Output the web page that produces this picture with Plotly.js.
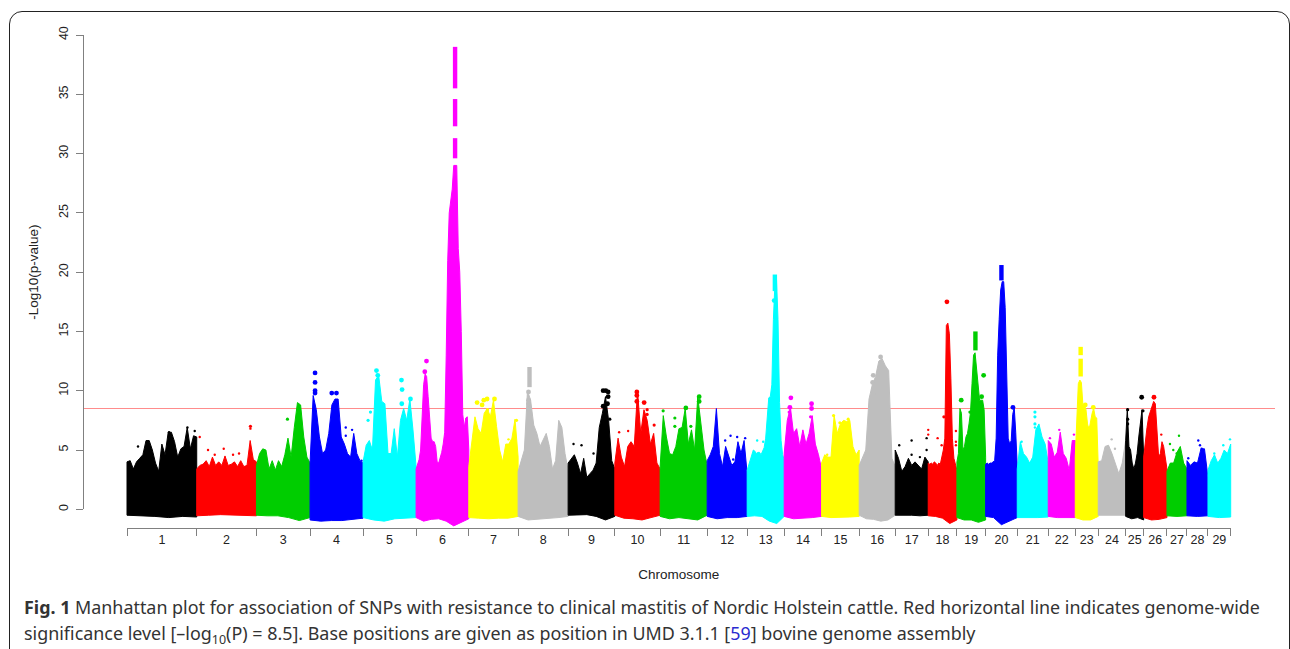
<!DOCTYPE html>
<html>
<head>
<meta charset="utf-8">
<script src="https://cdn.plot.ly/plotly-3.0.1.min.js"></script>
<style>
html,body{margin:0;padding:0;background:#fff;overflow:hidden;width:1290px;height:649px}
#card{position:absolute;left:9px;top:11px;width:1281px;height:700px;border:1.5px solid #222;border-radius:13px;box-sizing:border-box}
#plot{position:absolute;left:0;top:0;width:1290px;height:649px}
</style>
</head>
<body>
<div id="card"></div>
<div id="plot"></div>
<script>
const chromLabels = ["1","2","3","4","5","6","7","8","9","10","11","12","13","14","15","16","17","18","19","20","21","22","23","24","25","26","27","28","29"];
// chromosome boundaries along the genome axis
const chromBounds = [0,69.7,129.4,183,236,289,341.7,391,441,487.7,533,580,620,657,694.4,732,768,801,829.7,858.4,890,921,948,971,998.4,1016.4,1039.7,1059.7,1080.7,1103.4];
const yTicks = [0,5,10,15,20,25,30,35,40];
const threshold = 8.5;

// upper edge of the SNP cloud, evenly spaced along each chromosome
const top1 = [4.0,4.1,3.4,4.0,4.3,4.6,5.8,5.8,5.0,3.9,3.2,5.5,4.6,6.5,6.5,5.7,4.4,5.1,5.3,6.9,5.1,6.2,6.1];
const top2 = [3.4,3.7,3.8,4.1,3.6,4.4,3.7,4.0,3.7,4.5,3.7,3.8,4.0,3.6,4.1,3.6,3.7,5.8,4.2,4.0];
const top3 = [3.7,4.7,5.1,5.0,3.4,4.1,3.3,4.1,3.6,4.6,6.0,4.4,6.9,9.0,8.8,6.1,4.4,3.9];
const top4 = [3.9,9.6,8.4,6.1,4.7,5.0,6.4,8.8,9.3,9.3,6.1,5.5,4.7,4.4,6.4,4.7,4.1,3.9];
const top5 = [4.0,5.4,5.8,5.0,10.9,11.3,9.1,8.9,4.7,4.7,6.8,4.4,7.5,8.5,7.5,9.3,6.7,3.6];
const top6 = [3.4,3.9,4.2,5.0,8.0,10.5,11.4,11.2,9.5,7.5,6.0,5.7,5.7,5.3,4.0,3.9,4.3,4.8,5.5,6.5,13,21,25,26,27,29,29,29,22,20,15,8,6.9,7.7,7.8,5.0];
const top7 = [3.6,5.5,7.8,6.8,6.4,8.1,8.5,7.8,9.2,7.0,5.0,4.0,5.5,5.5,6.0,7.6,4.4];
const top8 = [3.2,4.1,5.0,10.0,9.2,7.1,6.4,5.3,5.8,6.4,5.3,3.4,4.1,7.5,6.9,4.7,3.3];
const top9 = [3.9,4.3,4.6,3.9,3.0,4.3,2.7,3.0,3.3,3.9,6.9,8.1,9.5,7.5,4.1,3.4];
const top10 = [3.9,6.0,4.4,3.6,5.3,5.7,5.3,10.0,6.4,8.4,7.5,5.5,6.4,3.9,3.4];
const top11 = [3.6,7.9,6.1,4.7,4.6,5.3,6.8,6.9,8.5,5.5,6.7,5.0,9.5,7.2,5.0,3.7];
const top12 = [4.1,4.6,5.3,8.5,4.7,3.6,5.3,4.4,3.7,4.0,5.7,4.7,5.8,3.0];
const top13 = [3.3,3.7,4.0,4.5,5.0,4.9,4.7,4.8,4.8,4.6,5.0,5.2,6.0,7.5,9.4,9.5,10.5,16,19,19.5,16,9,5.8,4.6,4.2];
const top14 = [4.7,7.5,8.6,6.4,6.8,5.3,6.7,5.5,6.4,7.9,5.5,4.6,3.4];
const top15 = [3.9,4.6,4.4,4.4,7.9,6.4,7.2,7.5,7.4,7.5,5.3,4.6,5.0];
const top16 = [3.7,4.4,5.0,9.3,10.5,11.2,12.5,12.7,12.1,11.7,4.3,3.6];
const top17 = [5.0,4.3,3.2,3.6,4.3,3.7,4.0,3.7,3.4,4.4,4.0];
const top18 = [3.9,3.8,3.9,3.8,4.0,3.9,3.7,3.9,3.8,4.4,5.0,6.0,15.5,15.7,14.8,11.0,6.0,4.3,3.7,3.3];
const top19 = [4.0,4.7,8.5,8.1,5.0,5.3,6.1,6.4,7.2,8.2,10.6,13.0,13.2,11.7,10.0,9.2,9.2,9.2,8.4,4.4];
const top20 = [3.8,3.9,3.8,3.9,3.9,4.0,4.1,6.0,13,16,18.5,19.2,19.2,17,12,6.0,5.5,5.8,8.0,8.6,6.5,3.6];
const top21 = [3.4,5.7,4.7,4.4,3.9,4.4,6.7,7.2,6.1,5.5,3.9];
const top22 = [5.8,5.5,4.4,4.8,6.5,4.7,4.3,3.3,5.8,5.8];
const top23 = [4.4,7.2,10.6,10.9,10.7,8.8,8.8,8.4,7.2,6.7,7.5,8.1,8.5,7.8,7.7,3.6];
const top24 = [4.0,4.1,5.3,5.4,4.7,3.9,3.0,3.9,5.8];
const top25 = [5.8,8.5,5.3,5.0,3.9,3.4,3.9,4.7,6.1,7.5,8.4,4.4];
const top26 = [4.4,5.8,6.9,7.8,8.2,8.6,9.1,8.9,6.1,4.4,4.7,5.7,5.3,4.4,3.4];
const top27 = [3.2,3.9,3.9,4.8,5.3,3.9,3.4];
const top28 = [4.1,3.7,4.0,3.9,5.1,5.1,2.7];
const top29 = [3.3,4.1,4.6,3.9,4.3,5.0,4.7,5.5];
const chromTops = [top1,top2,top3,top4,top5,top6,top7,top8,top9,top10,top11,top12,top13,top14,top15,top16,top17,top18,top19,top20,top21,top22,top23,top24,top25,top26,top27,top28,top29];

// lower edge of the SNP cloud, evenly spaced along each chromosome
const bot1 = [-.5,-.55,-.6,-.7,-.6,-.65];
const bot2 = [-.55,-.5,-.45,-.5,-.5,-.55];
const bot3 = [-.5,-.55,-.55,-.7,-.95,-.7];
const bot4 = [-.9,-1,-.95,-.95,-.85,-.75];
const bot5 = [-.7,-.9,-1,-.8,-.75,-.7];
const bot6 = [-.7,-1,-.85,-.8,-1,-1.4,-1.1,-.8];
const bot7 = [-.7,-.75,-.8,-.75,-.75,-.6];
const bot8 = [-.6,-.9,-.8,-.75,-.7,-.6];
const bot9 = [-.5,-.5,-.45,-.6,-.9,-.6];
const bot10 = [-.5,-.75,-.8,-.9,-.7,-.5];
const bot11 = [-.6,-.8,-.7,-.8,-.9,-.5];
const bot12 = [-.6,-.8,-.7,-.7,-.6];
const bot13 = [-.6,-.55,-.6,-1,-1.2,-.6];
const bot14 = [-.6,-.8,-.75,-.7,-.6];
const bot15 = [-.6,-.7,-.7,-.65,-.6];
const bot16 = [-.5,-.8,-.85,-1,-.9,-.5];
const bot17 = [-.5,-.5,-.5,-.55,-.5];
const bot18 = [-.55,-.6,-.75,-1.2,-.9];
const bot19 = [-.7,-.9,-.9,-1.1,-.9];
const bot20 = [-.6,-.7,-1.3,-1.0,-.7];
const bot21 = [-.7,-.7,-.7,-.65];
const bot22 = [-.6,-.7,-.7,-.7];
const bot23 = [-.7,-.9,-.9,-.6];
const bot24 = [-.5,-.55,-.5,-.5];
const bot25 = [-.6,-.8,-.7,-.9];
const bot26 = [-.7,-.9,-.85,-.7];
const bot27 = [-.55,-.6,-.55];
const bot28 = [-.55,-.6,-.55];
const bot29 = [-.6,-.7,-.65];
const chromBots = [bot1,bot2,bot3,bot4,bot5,bot6,bot7,bot8,bot9,bot10,bot11,bot12,bot13,bot14,bot15,bot16,bot17,bot18,bot19,bot20,bot21,bot22,bot23,bot24,bot25,bot26,bot27,bot28,bot29];

// unbroken runs of strongly associated SNPs: chromosome, position, low and high end
const runChrom = [6,6,6,8,13,19,20,23,23];
const runPos = [328,328,328,402.4,647.7,848.2,874.2,953.4,953.4];
const runLow = [35.5,32.3,29.6,10.3,18.4,13.4,19.3,13.0,11.2];
const runHigh = [39.0,34.6,31.3,12.0,19.8,15.0,20.6,13.7,12.7];

// individual SNPs standing out above the cloud
const snpChrom = [1,1,1,1, 2,2,2,2,2,2,2,2, 3, 4,4,4,4,4,4,4,4,4,4, 5,5,5,5,5,5,5,5,
 6,6, 7,7,7,7,7,7,7,7,7, 8,8,8, 9,9,9,9,9,9,9,9,9,9,9,
 10,10,10,10,10,10,10,10,10, 11,11,11,11,11,11,11, 12,12,12,12,12,
 13,13,13, 14,14,14,14,14,14, 15,15,15,15, 16,16,16,16, 17,17,17,17,17,17,
 18,18,18,18,18,18,18,18,18, 19,19,19,19, 20,
 21,21,21,21,21, 22,22,22, 23,23,23, 24,24, 25,25,25,25,25, 26,26,
 27,27,27,27, 28,28,28,28, 29,29,29];
const snpPos = [60.4,67.7,42,11, 123.4,123.4,81,96.7,87.7,106,112,72.7, 160.4, 188,188,188,188,204.7,209.4,218.7,218.7,225,234.4, 249.4,250.7,274.4,275,274.7,243.4,241,283.4,
 299.4,297.7, 350,355,356.7,360,367.4,389.4,381.4,360.4,358.7, 401.4,401.4,401.4, 476,478.7,481,481,480.4,476,477.7,446.4,466.4,482.7,454.4,
 509.7,509.7,509.7,517,520,520,527,501,492, 572,572,558.7,536,547.7,547.7,563.7, 598,610,618,606,603.4,
 647,630,636, 663.7,684.4,684.4,662.7,662,683.4, 706.4,721,712.7,700, 746,745.4,749.4,753.4, 784.4,784.4,799.4,799.4,772,792.7,
 819.7,801,801,810.4,814.4,816.7,828.7,828.7,828.7, 856.4,854.4,834,842.7, 885.7,
 907.7,907.7,907.7,907.7,894.4, 932,922.7,946.7, 958,966,962, 984.4,987.7, 1014.4,1000.4,1000.4,1000.4,1015.7, 1026.7,1034,
 1051.7,1042.7,1046,1049.4, 1071,1072.7,1074.4,1061, 1096,1102.7,1087];
const snpLogP = [6.9,6.6,6.5,5.3, 7.0,6.8,5.0,5.1,4.6,4.6,4.7,6.1, 7.6, 11.5,10.7,10,9.8,9.8,9.8,6.9,6.2,6.7,4.1, 11.7,11.3,10.9,10.1,8.9,8.2,7.5,9.3,
 12.5,11.6, 9.0,8.8,9.2,9.3,9.3,7.5,5.9,8.4,7.8, 9.9,9.2,8.9, 10,10,9.9,9.5,8.9,8.7,7.9,5.5,4.7,7.6,5.4,
 9.9,9.6,9.1,9,8.4,8,7.1,6.6,6.5, 9.5,9.1,8.55,8.3,7.7,7,7, 5.8,6.1,6,4.2,6.2,
 17.6,5.8,5.7, 9.4,8.9,8.5,8.6,8.2,7.8, 7.9,7.6,7.3,4.6, 11.3,10.7,9.9,12.85, 5.8,4.6,6,5,5.4,4.4,
 17.5,6.7,6.3,6,5.4,7.8,6.6,5.7,5.4, 11.3,9.5,9.2,8.2, 8.6,
 8.2,7.8,7.2,6.9,5.7, 6.7,6,6.3, 8.8,8.6,6.9, 5.9,5.1, 9.45,8.4,7.6,7.2,8.3, 9.45,6.3,
 6.2,5.5,5,4.7, 5.8,5.4,5.1,4.3, 5.4,5.9,4.7];

const palette = ["#000000","#FF0000","#00CD00","#0000FF","#00FFFF","#FF00FF","#FFFF00","#BEBEBE"];
const captionLine1 = "<b>Fig. 1</b> Manhattan plot for association of SNPs with resistance to clinical mastitis of Nordic Holstein cattle. Red horizontal line indicates genome-wide";
const captionLine2 = "significance level [–log<sub>10</sub>(P) = 8.5]. Base positions are given as position in UMD 3.1.1 [<span style=\"color:#2a2ad0\">59</span>] bovine genome assembly";

const W=1290,H=649;
const margin={l:83.3,r:15,t:35,b:121.3};
const plotW=W-margin.l-margin.r, plotH=H-margin.t-margin.b;
const fullX=[-44,1147.7], fullY=[-1.578,40];
const axisXDomain=[44/plotW,1147.4/plotW], axisYDomain=[18.7/plotH,1];
const px=x=>(x-margin.l)/plotW, py=y=>1-(y-margin.t)/plotH;
const color=i=>palette[i%palette.length];
const even=(a,b,n,i)=>a+(b-a)*i/(n-1);
const inkFont="Liberation Sans, Arial, sans-serif";
const gray="#808080";

const traces=[{x:fullX,y:[threshold,threshold],mode:"lines",line:{color:"#FF8C8C",width:1.2},hoverinfo:"skip",showlegend:false}];
chromLabels.forEach((name,i)=>{
  const a=chromBounds[i],b=chromBounds[i+1],t=chromTops[i],d=chromBots[i];
  const xs=[],ys=[];
  t.forEach((v,k)=>{xs.push(even(a,b,t.length,k));ys.push(v);});
  for(let k=d.length-1;k>=0;k--){xs.push(even(a,b,d.length,k));ys.push(d[k]);}
  xs.push(xs[0]);ys.push(ys[0]);
  traces.push({x:xs,y:ys,mode:"lines",fill:"toself",fillcolor:color(i),line:{color:color(i),width:1},name:"Chr "+name,showlegend:false,hoverinfo:"skip"});
});
runChrom.forEach((c,k)=>{
  traces.push({x:[runPos[k],runPos[k]],y:[runLow[k],runHigh[k]],mode:"lines",line:{color:color(c-1),width:4.4},showlegend:false,hoverinfo:"skip"});
});
traces.push({x:snpPos,y:snpLogP,mode:"markers",showlegend:false,
  marker:{color:snpChrom.map(c=>color(c-1)),size:snpLogP.map(v=>v>=8.5?4.8:(v>=7?3.2:2.4)),opacity:1,line:{width:0}},hoverinfo:"skip"});
// carriers of the visible axes
traces.push({x:[0],y:[0],xaxis:"x2",yaxis:"y2",mode:"markers",marker:{opacity:0,size:1},showlegend:false,hoverinfo:"skip"});
traces.push({x:[0],y:[0],xaxis:"x3",yaxis:"y2",mode:"markers",marker:{opacity:0,size:1},showlegend:false,hoverinfo:"skip"});

const centers=chromLabels.map((_,i)=>(chromBounds[i]+chromBounds[i+1])/2);
const tickFont={family:inkFont,size:12.5,color:"#222"};
const titleFont={family:inkFont,size:13.5,color:"#222"};
const layout={
  width:W,height:H,margin:margin,paper_bgcolor:"rgba(0,0,0,0)",plot_bgcolor:"rgba(0,0,0,0)",showlegend:false,
  xaxis:{visible:false,range:fullX,fixedrange:true},
  yaxis:{visible:false,range:fullY,fixedrange:true},
  xaxis2:{domain:axisXDomain,range:[0,1103.4],anchor:"free",position:0,tickmode:"array",tickvals:centers,ticktext:chromLabels,
    ticks:"",ticklabelstandoff:2,tickangle:0,tickfont:tickFont,showgrid:false,zeroline:false,showline:false,
    title:{text:"Chromosome",font:titleFont,standoff:24},automargin:false},
  xaxis3:{domain:axisXDomain,range:[0,1103.4],overlaying:"x2",anchor:"free",position:0,side:"bottom",tickmode:"array",tickvals:chromBounds,showticklabels:false,
    ticks:"outside",ticklen:7,tickwidth:1,tickcolor:gray,showline:true,linecolor:gray,linewidth:1,showgrid:false,zeroline:false},
  yaxis2:{domain:axisYDomain,range:[0,40],anchor:"free",position:0,tickmode:"array",tickvals:yTicks,ticktext:yTicks.map(String),
    ticks:"outside",ticklen:7,tickwidth:1,tickcolor:gray,tickangle:-90,ticklabelstandoff:3,tickfont:tickFont,showline:true,linecolor:gray,linewidth:1,showgrid:false,zeroline:false,
    title:{text:"-Log10(p-value)",font:titleFont,standoff:14},automargin:false},
  annotations:[
    {text:captionLine1,xref:"paper",yref:"paper",x:px(22),y:py(607),xanchor:"left",yanchor:"middle",showarrow:false,align:"left",font:{family:"Noto Sans, sans-serif",size:17.9,color:"#333"}},
    {text:captionLine2,xref:"paper",yref:"paper",x:px(22),y:py(634),xanchor:"left",yanchor:"middle",showarrow:false,align:"left",font:{family:"Noto Sans, sans-serif",size:17.9,color:"#333"}}
  ]
};
Plotly.newPlot("plot",traces,layout,{displayModeBar:false,staticPlot:true});
</script>
</body>
</html>
